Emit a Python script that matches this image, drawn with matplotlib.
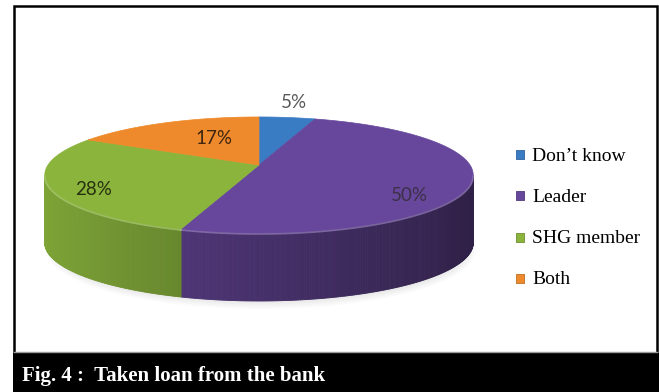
import numpy as np
import matplotlib.pyplot as plt
from matplotlib.patches import Polygon, Rectangle, Ellipse
from matplotlib.colors import to_rgb

# Share of respondents by who took the loan from the bank
categories = ["Don\u2019t know", "Leader", "SHG member", "Both"]
shares = [5, 50, 28, 17]
colors = ["#3a7cc4", "#67479c", "#8ab43c", "#ee8a2b"]
caption = "Fig. 4 :  Taken loan from the bank"

W, H = 659, 392
fig = plt.figure(figsize=(W / 100, H / 100), dpi=100)
ax = fig.add_axes([0, 0, 1, 1])
ax.set_xlim(0, W)
ax.set_ylim(H, 0)
ax.axis("off")

# frame and caption bar
ax.plot([14, 14, 657, 657], [353, 6, 6, 353], color="black", lw=1.8, solid_joinstyle="miter")
ax.plot([14, 657], [352, 352], color="#9a9a9a", lw=1)
ax.add_patch(Rectangle((13, 353), W - 13, H - 353, fc="black", ec="none"))
ax.text(22, 381, caption, color="white", fontsize=15, fontweight="bold",
        family="Liberation Serif", va="baseline", ha="left")

# 3D pie: disc centre, radii, perspective strength and wall height (pixels)
cx, cy, A, B, k, depth = 259, 165, 211, 56.3, 0.172, 68


def proj(t, r=1.0, drop=0.0):
    t = np.radians(t)
    X, Y = r * np.cos(t), r * np.sin(t)
    d = 1 + k * Y
    return cx + A * X / d, cy - B * Y / d + drop


def shade(c, f):
    return tuple(min(1, v * f) for v in to_rgb(c))


def lighten(c, f):
    return tuple(v + (1 - v) * f for v in to_rgb(c))


# soft shadow under the pie
for i in range(6):
    ax.add_patch(Ellipse((cx + 2, 176 + depth + 6), 430 - 4 * i, 118 - 3 * i,
                         fc="#000000", alpha=0.015, ec="none", zorder=0))

spans = []
start = 90.0
for s in shares:
    sweep = 360.0 * s / sum(shares)
    spans.append((start, start - sweep))
    start -= sweep

# visible part of the wall lies between the two silhouette angles
sil = np.degrees(np.arcsin(k))
front_lo, front_hi = -180 + sil, -sil

for (t0, t1), c in zip(spans, colors):
    for off in (-360, 0, 360):
        lo, hi = max(t1, front_lo + off), min(t0, front_hi + off)
        if hi <= lo:
            continue
        ts = np.linspace(hi, lo, int(hi - lo) * 2 + 2)
        for ta, tb in zip(ts[:-1], ts[1:]):
            m = np.radians((ta + tb) / 2)
            col = shade(c, 0.68 - 0.24 * np.cos(m))
            quad = [proj(ta), proj(tb), proj(tb, drop=depth), proj(ta, drop=depth)]
            ax.add_patch(Polygon(quad, closed=True, fc=col, ec=col, lw=0.6, zorder=2))

# top faces
for (t0, t1), c in zip(spans, colors):
    ts = np.linspace(t0, t1, 200)
    verts = [proj(0, r=0)] + [proj(t) for t in ts]
    ax.add_patch(Polygon(verts, closed=True, fc=c, ec=c, lw=0.5, zorder=3))
    for off in (-360, 0, 360):
        lo, hi = max(t1, front_lo + off), min(t0, front_hi + off)
        if hi <= lo:
            continue
        rim = np.array([proj(t, drop=1.0) for t in np.linspace(hi, lo, 100)])
        ax.plot(rim[:, 0], rim[:, 1], color=lighten(c, 0.3), lw=1.2, alpha=0.7, zorder=4)

# percentage labels
label_r = [1.3, 0.72, 0.8, 0.45]
label_drop = [-3, 17, 7, -6]
label_color = ["#595959", "#3b3048", "#26300f", "#3d2512"]
for (t0, t1), s, r, dy, lc in zip(spans, shares, label_r, label_drop, label_color):
    x, y = proj((t0 + t1) / 2, r=r, drop=dy)
    ax.text(x, y, f"{s}%", ha="center", va="center", fontsize=13.5, color=lc,
            family="Lato", zorder=5)

# legend
for i, (name, c) in enumerate(zip(categories, colors)):
    y = 154.5 + 41.3 * i
    ax.add_patch(Rectangle((515.5, y - 4.5), 8, 9, fc=c, ec=shade(c, 0.8), lw=0.6, zorder=5))
    ax.text(532, y + 6, name, fontsize=14, family="Liberation Serif",
            va="baseline", ha="left", color="black")

fig.savefig("out.png", dpi=100)
